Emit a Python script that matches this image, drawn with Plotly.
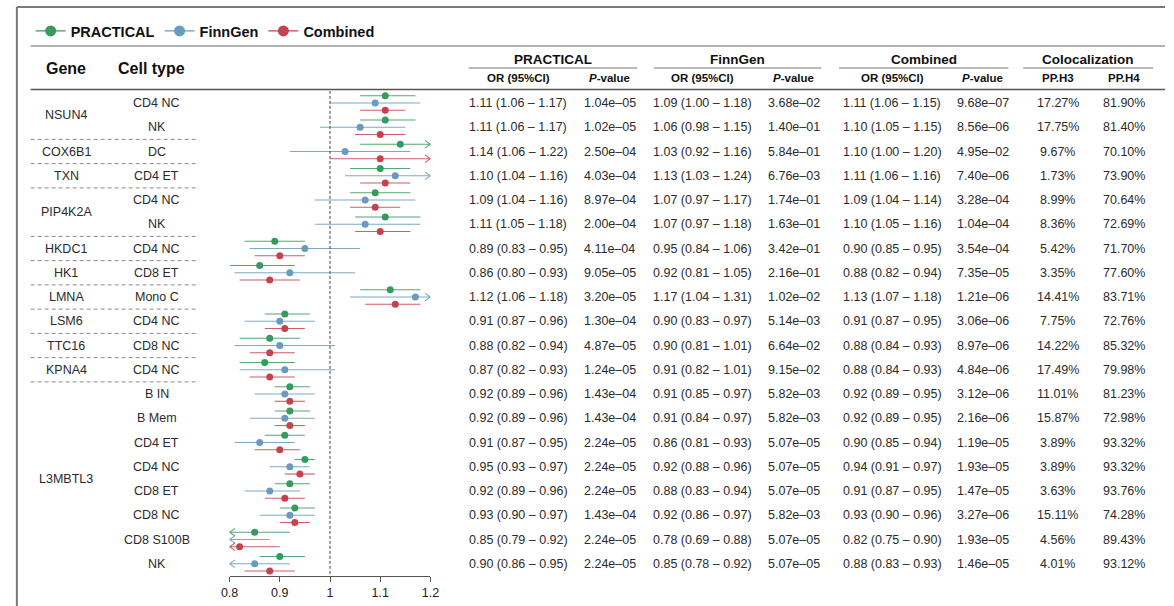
import plotly.graph_objects as go

W, H = 1174, 606

genes = ["NSUN4", "NSUN4", "COX6B1", "TXN", "PIP4K2A", "PIP4K2A", "HKDC1", "HK1", "LMNA",
         "LSM6", "TTC16", "KPNA4"] + ["L3MBTL3"] * 8
cells = ["CD4 NC", "NK", "DC", "CD4 ET", "CD4 NC", "NK", "CD4 NC", "CD8 ET", "Mono C",
         "CD4 NC", "CD8 NC", "CD4 NC", "B IN", "B Mem", "CD4 ET", "CD4 NC", "CD8 ET",
         "CD8 NC", "CD8 S100B", "NK"]

prac_or = [1.11, 1.11, 1.14, 1.10, 1.09, 1.11, 0.89, 0.86, 1.12, 0.91, 0.88, 0.87, 0.92, 0.92, 0.91, 0.95, 0.92, 0.93, 0.85, 0.90]
prac_lo = [1.06, 1.06, 1.06, 1.04, 1.04, 1.05, 0.83, 0.80, 1.06, 0.87, 0.82, 0.82, 0.89, 0.89, 0.87, 0.93, 0.89, 0.90, 0.79, 0.86]
prac_hi = [1.17, 1.17, 1.22, 1.16, 1.16, 1.18, 0.95, 0.93, 1.18, 0.96, 0.94, 0.93, 0.96, 0.96, 0.95, 0.97, 0.96, 0.97, 0.92, 0.95]
prac_p = [1.04e-05, 1.02e-05, 2.50e-04, 4.03e-04, 8.97e-04, 2.00e-04, 4.11e-04, 9.05e-05, 3.20e-05, 1.30e-04,
          4.87e-05, 1.24e-05, 1.43e-04, 1.43e-04, 2.24e-05, 2.24e-05, 2.24e-05, 1.43e-04, 2.24e-05, 2.24e-05]

finn_or = [1.09, 1.06, 1.03, 1.13, 1.07, 1.07, 0.95, 0.92, 1.17, 0.90, 0.90, 0.91, 0.91, 0.91, 0.86, 0.92, 0.88, 0.92, 0.78, 0.85]
finn_lo = [1.00, 0.98, 0.92, 1.03, 0.97, 0.97, 0.84, 0.81, 1.04, 0.83, 0.81, 0.82, 0.85, 0.84, 0.81, 0.88, 0.83, 0.86, 0.69, 0.78]
finn_hi = [1.18, 1.15, 1.16, 1.24, 1.17, 1.18, 1.06, 1.05, 1.31, 0.97, 1.01, 1.01, 0.97, 0.97, 0.93, 0.96, 0.94, 0.97, 0.88, 0.92]
finn_p = [3.68e-02, 1.40e-01, 5.84e-01, 6.76e-03, 1.74e-01, 1.63e-01, 3.42e-01, 2.16e-01, 1.02e-02, 5.14e-03,
          6.64e-02, 9.15e-02, 5.82e-03, 5.82e-03, 5.07e-05, 5.07e-05, 5.07e-05, 5.82e-03, 5.07e-05, 5.07e-05]

comb_or = [1.11, 1.10, 1.10, 1.11, 1.09, 1.10, 0.90, 0.88, 1.13, 0.91, 0.88, 0.88, 0.92, 0.92, 0.90, 0.94, 0.91, 0.93, 0.82, 0.88]
comb_lo = [1.06, 1.05, 1.00, 1.06, 1.04, 1.05, 0.85, 0.82, 1.07, 0.87, 0.84, 0.84, 0.89, 0.89, 0.85, 0.91, 0.87, 0.90, 0.75, 0.83]
comb_hi = [1.15, 1.15, 1.20, 1.16, 1.14, 1.16, 0.95, 0.94, 1.18, 0.95, 0.93, 0.93, 0.95, 0.95, 0.94, 0.97, 0.95, 0.96, 0.90, 0.93]
comb_p = [9.68e-07, 8.56e-06, 4.95e-02, 7.40e-06, 3.28e-04, 1.04e-04, 3.54e-04, 7.35e-05, 1.21e-06, 3.06e-06,
          8.97e-06, 4.84e-06, 3.12e-06, 2.16e-06, 1.19e-05, 1.93e-05, 1.47e-05, 3.27e-06, 1.93e-05, 1.46e-05]

pp_h3 = [17.27, 17.75, 9.67, 1.73, 8.99, 8.36, 5.42, 3.35, 14.41, 7.75, 14.22, 17.49, 11.01, 15.87, 3.89, 3.89, 3.63, 15.11, 4.56, 4.01]
pp_h4 = [81.90, 81.40, 70.10, 73.90, 70.64, 72.69, 71.70, 77.60, 83.71, 72.76, 85.32, 79.98, 81.23, 72.98, 93.32, 93.32, 93.76, 74.28, 89.43, 93.12]

series_names = ["PRACTICAL", "FinnGen", "Combined"]
x_ticks = [0.8, 0.9, 1.0, 1.1, 1.2]
x_ticktext = ["0.8", "0.9", "1", "1.1", "1.2"]

# ---------------- styling ----------------
COLORS = {"PRACTICAL": "#3a9a5e", "FinnGen": "#6b9bbd", "Combined": "#c4434e"}
OFFSETS = {"PRACTICAL": -0.3, "FinnGen": 0.0, "Combined": 0.3}
XMIN, XMAX = 0.8, 1.2
FONT = "Liberation Sans, Arial, sans-serif"
NARROW = "Liberation Sans Narrow, Liberation Sans, Arial, sans-serif"
TXT = "#2b2b2b"

ROW0_PX, ROW_STEP = 103.0, 24.25
n = len(genes)
top_px = ROW0_PX - ROW_STEP / 2
bot_px = ROW0_PX + (n - 0.5) * ROW_STEP


def px(x):
    return x / W


def py(y):
    return 1 - y / H


fig = go.Figure()

data = {
    "PRACTICAL": (prac_or, prac_lo, prac_hi),
    "FinnGen": (finn_or, finn_lo, finn_hi),
    "Combined": (comb_or, comb_lo, comb_hi),
}

for name in series_names:
    ors, los, his = data[name]
    col = COLORS[name]
    off = OFFSETS[name]
    lx, ly, ax_, ay_ = [], [], [], []
    mx, my = [], []
    for i in range(n):
        y = i + off
        lo = max(los[i], XMIN)
        hi = min(his[i], XMAX)
        lx += [lo, hi, None]
        ly += [y, y, None]
        if his[i] >= XMAX:
            ax_ += [XMAX - 0.011, XMAX, XMAX - 0.011, None]
            ay_ += [y - 0.16, y, y + 0.16, None]
        if los[i] < XMIN:
            ax_ += [XMIN + 0.011, XMIN, XMIN + 0.011, None]
            ay_ += [y - 0.16, y, y + 0.16, None]
        if XMIN <= ors[i] <= XMAX:
            mx.append(ors[i])
            my.append(y)
    fig.add_trace(go.Scatter(x=lx, y=ly, mode="lines", line=dict(color=col, width=1.1),
                             opacity=0.85, showlegend=False, hoverinfo="skip"))
    if ax_:
        fig.add_trace(go.Scatter(x=ax_, y=ay_, mode="lines", line=dict(color=col, width=1.1),
                                 opacity=0.85, showlegend=False, hoverinfo="skip"))
    fig.add_trace(go.Scatter(x=mx, y=my, mode="markers", marker=dict(color=col, size=7),
                             showlegend=False, name=name))
    # legend entry
    fig.add_trace(go.Scatter(x=[None], y=[None], mode="lines+markers",
                             line=dict(color=col, width=1.2), marker=dict(color=col, size=11),
                             name=f"<b>{name}</b>", showlegend=True))

shapes = []
# vertical reference line at OR = 1
shapes.append(dict(type="line", xref="x", yref="y", x0=1, x1=1, y0=-0.5, y1=n - 0.5,
                   line=dict(color="#444", width=1, dash="3px,2px")))

# gene separators
for i in range(n - 1):
    if genes[i] != genes[i + 1]:
        shapes.append(dict(type="line", xref="paper", yref="y", x0=px(22), x1=px(193),
                           y0=i + 0.5, y1=i + 0.5, line=dict(color="#8a8a8a", width=1, dash="4px,3px")))

# frame & header rules
shapes.append(dict(type="line", xref="paper", yref="paper", x0=px(8), x1=1, y0=py(7), y1=py(7),
                   line=dict(color="#7a7a7a", width=2)))
shapes.append(dict(type="line", xref="paper", yref="paper", x0=px(8), x1=px(8), y0=py(7), y1=0,
                   line=dict(color="#7a7a7a", width=2)))
shapes.append(dict(type="line", xref="paper", yref="paper", x0=px(22), x1=1, y0=py(46), y1=py(46),
                   line=dict(color="#666", width=1)))
shapes.append(dict(type="line", xref="paper", yref="paper", x0=px(22), x1=1, y0=py(89.5), y1=py(89.5),
                   line=dict(color="#555", width=1.5)))

groups = [("PRACTICAL", 467, 638), ("FinnGen", 655, 825), ("Combined", 843, 1015), ("Colocalization", 1030, 1162)]
for gname, x0, x1 in groups:
    shapes.append(dict(type="line", xref="paper", yref="paper", x0=px(x0), x1=px(x1), y0=py(68), y1=py(68),
                       line=dict(color="#777", width=1)))

annotations = []


def ann(x, y, text, size, bold=False, yref="paper", family=FONT, color=TXT):
    annotations.append(dict(x=x, y=y, xref="paper", yref=yref, text=f"<b>{text}</b>" if bold else text,
                            showarrow=False, xanchor="center", yanchor="middle",
                            font=dict(size=size, family=family, color=color)))


for gname, x0, x1 in groups:
    ann(px((x0 + x1) / 2), py(59), gname, 13.5, bold=True, color="#111")

ann(px(58), py(68), "Gene", 16, bold=True, color="#111")
ann(px(145), py(68), "Cell type", 16, bold=True, color="#111")

col_x = [517, 610, 704, 797, 897, 989, 1065, 1132]
sub = ["OR (95%CI)", "<i>P</i>-value", "OR (95%CI)", "<i>P</i>-value", "OR (95%CI)", "<i>P</i>-value", "PP.H3", "PP.H4"]
for cx, s in zip(col_x, sub):
    ann(px(cx), py(78), s, 11.5, bold=True, family=NARROW, color="#111")

# gene labels (centered across their rows)
seen = []
for g in genes:
    if g not in seen:
        seen.append(g)
for g in seen:
    idx = [i for i, gg in enumerate(genes) if gg == g]
    ann(px(58), sum(idx) / len(idx), g, 12.5, yref="y")

for i, c in enumerate(cells):
    ann(px(150), i, c, 12.5, yref="y")


def fmt_or(o, l, h):
    return f"{o:.2f} ({l:.2f} \u2013 {h:.2f})"


def fmt_p(p):
    return f"{p:.2e}".replace("-", "\u2013")


for i in range(n):
    vals = [fmt_or(prac_or[i], prac_lo[i], prac_hi[i]), fmt_p(prac_p[i]),
            fmt_or(finn_or[i], finn_lo[i], finn_hi[i]), fmt_p(finn_p[i]),
            fmt_or(comb_or[i], comb_lo[i], comb_hi[i]), fmt_p(comb_p[i]),
            f"{pp_h3[i]:.2f}%", f"{pp_h4[i]:.2f}%"]
    for cx, v in zip(col_x, vals):
        ann(px(cx), i, v, 12.5, yref="y", family=NARROW)

fig.update_layout(
    width=W, height=H,
    margin=dict(l=0, r=0, t=0, b=0),
    paper_bgcolor="white", plot_bgcolor="rgba(0,0,0,0)",
    xaxis=dict(domain=[px(224), px(428)], range=[XMIN, XMAX], showgrid=False, zeroline=False,
               showline=True, linecolor="#555", linewidth=1, ticks="outside", ticklen=5, tickcolor="#555",
               tickvals=x_ticks, ticktext=x_ticktext, tickfont=dict(size=12.5, family=FONT, color="#222"),
               fixedrange=True),
    yaxis=dict(domain=[py(bot_px), py(top_px)], range=[n - 0.5, -0.5], visible=False, fixedrange=True),
    showlegend=True,
    legend=dict(orientation="h", x=px(22), xanchor="left", y=py(31), yanchor="middle",
                font=dict(size=14.5, family=FONT, color="#111"), bgcolor="rgba(0,0,0,0)",
                itemclick=False, itemdoubleclick=False, tracegroupgap=0),
    shapes=shapes,
    annotations=annotations,
)

fig.write_html("out.html", config={"displayModeBar": False},
               post_script="document.body.style.margin='0';document.body.style.overflow='hidden';")
